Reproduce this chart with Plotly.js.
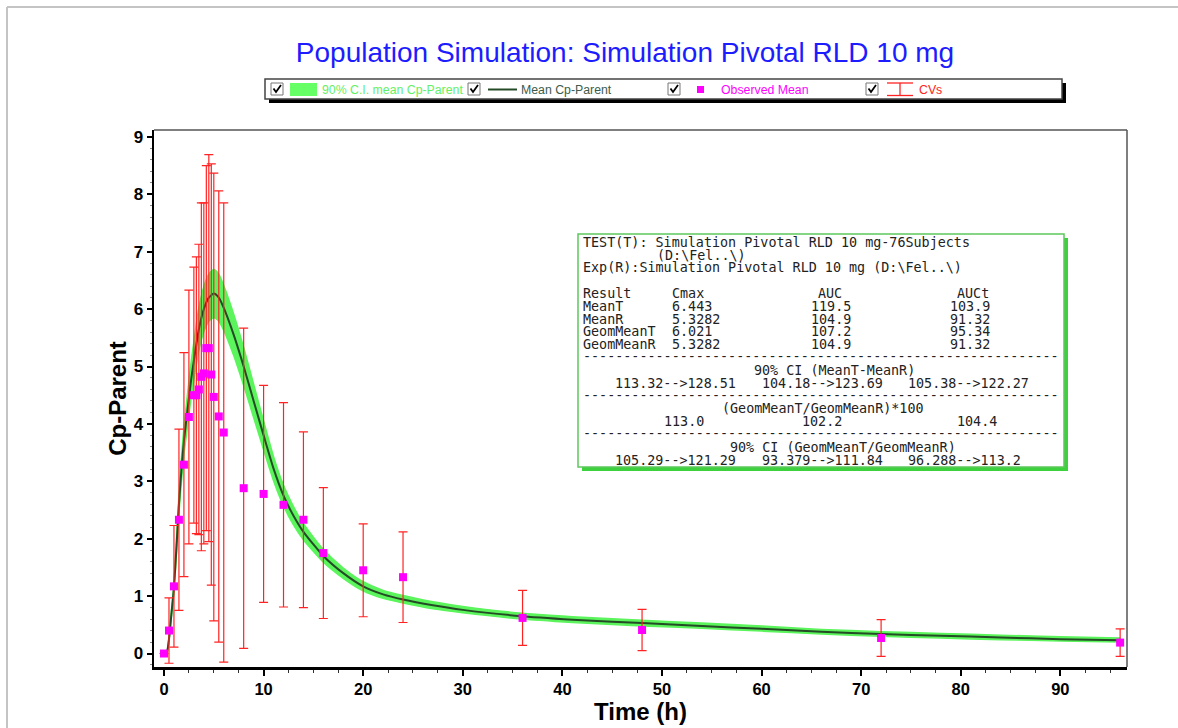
<!DOCTYPE html>
<html><head><meta charset="utf-8">
<script src="https://cdn.plot.ly/plotly-3.0.1.min.js"></script>
<style>html,body{margin:0;padding:0;background:#fff;overflow:hidden}#chart{width:1178px;height:728px}</style>
</head><body><div id="chart"></div>
<script>
// ---------- data ----------
const obsTime = [0,0.5,1,1.5,2,2.5,3,3.25,3.5,3.75,4,4.25,4.5,4.75,5,5.5,6,8,10,12,14,16,20,24,36,48,72,96];
const obsMean = [0,0.40,1.17,2.33,3.29,4.12,4.50,4.50,4.60,4.82,4.88,5.32,5.32,4.86,4.47,4.13,3.85,2.88,2.78,2.59,2.33,1.75,1.45,1.33,0.62,0.41,0.27,0.19];
const obsSD   = [null,0.57,1.06,1.58,1.95,2.21,2.23,2.41,2.53,3.03,2.97,3.18,3.37,3.67,3.90,3.93,4.00,2.79,1.89,1.78,1.53,1.14,0.81,0.79,0.48,0.36,0.32,0.24];

const simTime  = [0,0.25,0.5,0.75,1,1.25,1.5,1.75,2,2.25,2.5,2.75,3,3.5,4,4.5,5,5.5,6,7,8,9,10,11,12,13,14,16,18,20,22,24,27,30,36,42,48,54,60,66,72,78,84,90,96];
const simMean  = [0,0,0.25,0.70,1.15,1.85,2.60,3.20,3.70,4.08,4.45,4.80,5.10,5.65,6.00,6.20,6.27,6.20,6.02,5.55,5.00,4.40,3.80,3.22,2.75,2.40,2.12,1.70,1.40,1.17,1.03,0.94,0.84,0.76,0.65,0.58,0.53,0.48,0.43,0.38,0.34,0.31,0.28,0.25,0.23];
const simLower = [0,0,0.22,0.65,1.08,1.73,2.43,2.99,3.46,3.81,4.16,4.49,4.77,5.28,5.61,5.79,5.85,5.79,5.63,5.19,4.67,4.11,3.55,3.01,2.57,2.24,1.98,1.59,1.31,1.09,0.96,0.88,0.78,0.71,0.60,0.53,0.48,0.44,0.39,0.34,0.30,0.27,0.24,0.22,0.20];
const simUpper = [0,0,0.28,0.75,1.22,1.97,2.77,3.41,3.94,4.35,4.74,5.11,5.43,6.02,6.39,6.61,6.69,6.61,6.41,5.91,5.33,4.69,4.05,3.43,2.93,2.56,2.26,1.81,1.49,1.25,1.10,1.01,0.90,0.82,0.70,0.63,0.58,0.53,0.48,0.42,0.38,0.35,0.32,0.29,0.27];

const legendLabels = ['90% C.I. mean Cp-Parent','Mean Cp-Parent','Observed Mean','CVs'];

const headerLine1 = 'TEST(T): Simulation Pivotal RLD 10 mg-76Subjects';
const headerLine2 = '(D:\\Fel..\\)';
const headerLine3 = 'Exp(R):Simulation Pivotal RLD 10 mg (D:\\Fel..\\)';
const statCols  = ['Result','Cmax','AUC','AUCt'];
const statNames = ['MeanT','MeanR','GeomMeanT','GeomMeanR'];
const cmaxVals  = ['6.443','5.3282','6.021','5.3282'];
const aucVals   = ['119.5','104.9','107.2','104.9'];
const auctVals  = ['103.9','91.32','95.34','91.32'];
const ciMeanTitle = '90% CI (MeanT-MeanR)';
const ciMean    = ['113.32-->128.51','104.18-->123.69','105.38-->122.27'];
const geoTitle  = '(GeomMeanT/GeomMeanR)*100';
const geoRatio  = ['113.0','102.2','104.4'];
const ciGeoTitle = '90% CI (GeomMeanT/GeomMeanR)';
const ciGeo     = ['105.29-->121.29','93.379-->111.84','96.288-->113.2'];

// ---------- colours ----------
const BAND = 'rgb(92,244,92)';
const LINE = '#244a26';
const OBS = '#ff00ff';
const CV = 'rgb(255,35,35)';

// ---------- geometry helpers (plot area in pixels) ----------
const L = 154, R = 1127, T = 130, B = 667;
const W = R - L, H = B - T;
const fx = p => (p - L) / W;
const fy = p => (B - p) / H;

const traces = [
  {x: simTime, y: simLower, type: 'scatter', mode: 'lines', line: {color: BAND, width: 1.5, shape: 'spline', smoothing: 0.6}, hoverinfo: 'skip', showlegend: false},
  {x: simTime, y: simUpper, type: 'scatter', mode: 'lines', fill: 'tonexty', fillcolor: BAND, line: {color: BAND, width: 1.5, shape: 'spline', smoothing: 0.6}, name: legendLabels[0], showlegend: false},
  {x: simTime, y: simMean, type: 'scatter', mode: 'lines', line: {color: LINE, width: 2, shape: 'spline', smoothing: 0.6}, name: legendLabels[1], showlegend: false},
  {x: obsTime, y: obsMean, type: 'scatter', mode: 'markers', name: legendLabels[2], showlegend: false,
   marker: {symbol: 'square', size: 8, color: OBS},
   error_y: {type: 'data', array: obsSD, visible: true, color: CV, thickness: 1.2, width: 4.5}}
];

const shapes = [];
const annotations = [];
const MONO = 'DejaVu Sans Mono, Liberation Mono, monospace';
const SANS = 'Liberation Sans, Arial, sans-serif';

function rectPx(x0, y0, x1, y1, fill, lineColor, lineWidth) {
  shapes.push({type: 'rect', xref: 'paper', yref: 'paper', layer: 'above',
    x0: fx(x0), x1: fx(x1), y0: fy(y0), y1: fy(y1),
    fillcolor: fill, line: {color: lineColor || 'rgba(0,0,0,0)', width: lineWidth || 0}});
}
function linePx(x0, y0, x1, y1, color, width) {
  shapes.push({type: 'line', xref: 'paper', yref: 'paper', layer: 'above',
    x0: fx(x0), x1: fx(x1), y0: fy(y0), y1: fy(y1), line: {color: color, width: width}});
}
function pathPx(pts, color, width) {
  const d = pts.map((p, i) => (i ? 'L' : 'M') + fx(p[0]) + ',' + fy(p[1])).join(' ');
  shapes.push({type: 'path', xref: 'paper', yref: 'paper', layer: 'above', path: d, line: {color: color, width: width}});
}
function textPx(text, x, y, opts) {
  opts = opts || {};
  annotations.push({text: text, xref: 'paper', yref: 'paper', x: fx(x), y: fy(y),
    xanchor: opts.anchor || 'left', yanchor: 'middle', showarrow: false, borderpad: 0, borderwidth: 0,
    font: {family: opts.family || MONO, size: opts.size || 13.4, color: opts.color || '#222'}});
}

// outer page frame
linePx(7, 7, 1178, 7, '#c4c4c4', 2);
linePx(7, 7, 7, 728, '#c4c4c4', 2);

// top/right frame of plot area
linePx(L, T, R, T, '#555', 1.5);
linePx(R, T, R, B, '#555', 1.5);

// ---------- legend box ----------
rectPx(269, 83, 1066, 103, '#000');
rectPx(265, 79, 1062, 99, '#fff', '#444', 1.5);
const cbX = [271, 468, 668, 866];
const txtX = [322, 521, 721, 919];
const legColors = ['rgb(100,240,100)', '#3c5c4c', OBS, CV];
cbX.forEach(x => {
  rectPx(x, 83, x + 12, 95, '#fff', '#777', 1);
  pathPx([[x + 2.5, 88.5], [x + 5, 92], [x + 10, 85]], '#000', 1.8);
});
rectPx(290, 83, 317, 96, 'rgb(102,255,102)');
linePx(488, 89.5, 517, 89.5, LINE, 2);
rectPx(697, 86, 704, 93, OBS);
linePx(887, 83, 913, 83, CV, 1.3);
linePx(887, 95.5, 913, 95.5, CV, 1.3);
linePx(900, 83, 900, 95.5, CV, 1.3);
legendLabels.forEach((t, i) => textPx(t, txtX[i], 89.5, {family: SANS, size: 12.3, color: legColors[i]}));

// ---------- statistics box ----------
rectPx(582, 238, 1068, 471, '#3dd23d');
rectPx(578, 234, 1064, 467, '#fff', '#5cc85c', 1.5);
textPx(headerLine1, 582.7, 242.7);
textPx(headerLine2, 656.7, 255);
textPx(headerLine3, 582.7, 267.3);
const colX = [582.7, 671.7, 810.7, 949.5];
const headX = [582.7, 671.7, 818, 956.7];
statCols.forEach((t, i) => textPx(t, headX[i], 293.3));
const rowY = [306, 319, 331.5, 344.3];
statNames.forEach((n, r) => {
  textPx(n, colX[0], rowY[r]);
  textPx(cmaxVals[r], colX[1], rowY[r]);
  textPx(aucVals[r], colX[2], rowY[r]);
  textPx(auctVals[r], colX[3], rowY[r]);
});
const dashes = '-'.repeat(59);
textPx(dashes, 582.7, 356.7);
textPx(ciMeanTitle, 834, 370.7, {anchor: 'center'});
const trioX = [615, 761.7, 908.3];
ciMean.forEach((t, i) => textPx(t, trioX[i], 383.3));
textPx(dashes, 582.7, 395);
textPx(geoTitle, 822.8, 408.3, {anchor: 'center'});
const geoX = [664.3, 802.3, 957.3];
geoRatio.forEach((t, i) => textPx(t, geoX[i], 421.7));
textPx(dashes, 582.7, 433.3);
textPx(ciGeoTitle, 842.7, 447.3, {anchor: 'center'});
ciGeo.forEach((t, i) => textPx(t, trioX[i], 460));

// ---------- layout ----------
const tickFont = {family: SANS, size: 16.5, color: '#000', weight: 'bold'};
const layout = {
  width: 1178, height: 728,
  margin: {l: L, r: 1178 - R, t: T, b: 728 - B, pad: 0},
  paper_bgcolor: '#fff', plot_bgcolor: '#fff',
  showlegend: false,
  title: {text: 'Population Simulation: Simulation Pivotal RLD 10 mg', x: 625 / 1178, xanchor: 'center',
          y: 1 - 52 / 728, yanchor: 'middle', yref: 'container',
          font: {family: SANS, size: 28, color: 'rgb(28,28,255)'}},
  xaxis: {range: [-1.004, 96.69], tickmode: 'linear', tick0: 0, dtick: 10,
          showgrid: false, zeroline: false, showline: true, linecolor: '#000', linewidth: 2.5,
          ticks: 'outside', ticklen: 6, tickwidth: 2, tickcolor: '#000', tickfont: tickFont,
          minor: {dtick: 2.5, tick0: 0, ticks: 'outside', ticklen: 3, tickwidth: 1, tickcolor: '#333', showgrid: false},
          title: {text: 'Time (h)', standoff: 6, font: {family: SANS, size: 24, color: '#000', weight: 'bold'}},
          automargin: false, fixedrange: true},
  yaxis: {range: [-0.235, 9.12], tickmode: 'linear', tick0: 0, dtick: 1,
          showgrid: false, zeroline: false, showline: true, linecolor: '#000', linewidth: 2.5,
          ticks: 'outside', ticklen: 5, tickwidth: 2, tickcolor: '#000', tickfont: {family: SANS, size: 17, color: '#000', weight: 'bold'},
          minor: {dtick: 0.2, tick0: 0, ticks: 'outside', ticklen: 2, tickwidth: 1, tickcolor: '#888', showgrid: false},
          title: {text: 'Cp-Parent', standoff: 0, font: {family: SANS, size: 24, color: '#000', weight: 'bold'}},
          automargin: false, fixedrange: true},
  shapes: shapes,
  annotations: annotations
};

Plotly.newPlot('chart', traces, layout, {displayModeBar: false, staticPlot: true});
</script>
</body></html>
